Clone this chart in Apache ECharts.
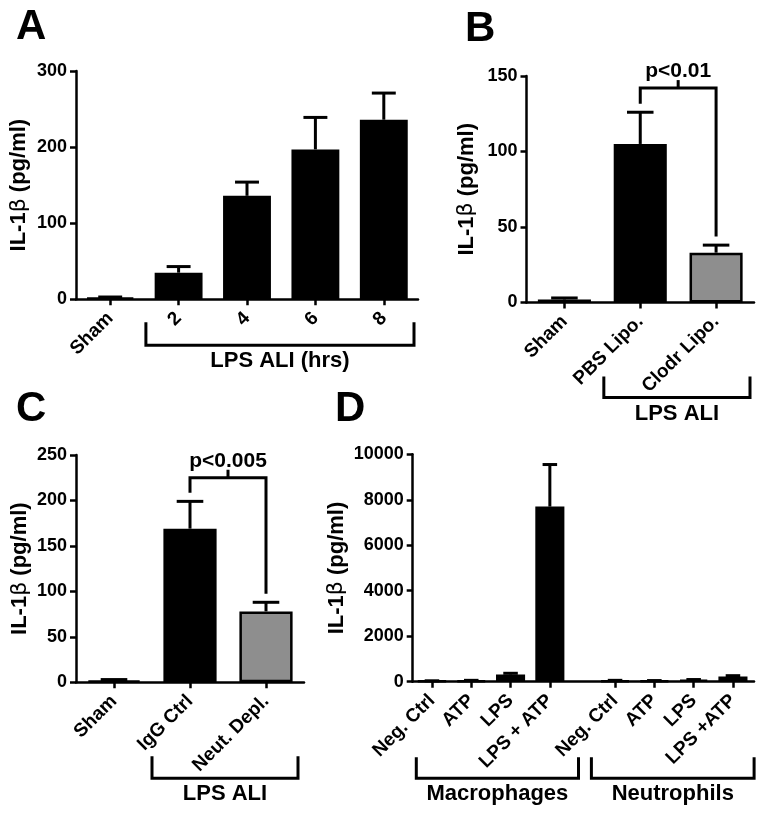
<!DOCTYPE html>
<html><head><meta charset="utf-8">
<script src="https://cdn.jsdelivr.net/npm/echarts@6/dist/echarts.min.js"></script>
<style>html,body{margin:0;padding:0;background:#fff}#c{width:764px;height:815px}</style>
</head><body><div id="c"></div>
<script>
// ---------------- DATA ----------------
const catsA = ['Sham', '2', '4', '6', '8'];
const meanA = [2, 35, 136, 197, 236];
const semA  = [1, 8, 18, 42, 35];

const catsB = ['Sham', 'PBS Lipo.', 'Clodr Lipo.'];
const meanB = [2, 105, 33];
const semB  = [1, 21, 5];

const catsC = ['Sham', 'IgG Ctrl', 'Neut. Depl.'];
const meanC = [2, 169, 78];
const semC  = [1, 30, 10];

const catsDMac = ['Neg. Ctrl', 'ATP', 'LPS', 'LPS + ATP'];
const meanDMac = [30, 50, 320, 7700];
const semDMac  = [10, 10, 50, 1850];

const catsDNeu = ['Neg. Ctrl', 'ATP', 'LPS', 'LPS +ATP'];
const meanDNeu = [50, 40, 80, 230];
const semDNeu  = [10, 10, 15, 35];

const yTicksA = [0, 100, 200, 300];
const yTicksB = [0, 50, 100, 150];
const yTicksC = [0, 50, 100, 150, 200, 250];
const yTicksD = [0, 2000, 4000, 6000, 8000, 10000];

const groupA    = {from: '2', to: '8', label: 'LPS ALI (hrs)'};
const groupB    = {from: 'PBS Lipo.', to: 'Clodr Lipo.', label: 'LPS ALI'};
const groupC    = {from: 'IgG Ctrl', to: 'Neut. Depl.', label: 'LPS ALI'};
const groupDMac = {from: 'Neg. Ctrl', to: 'LPS + ATP', label: 'Macrophages'};
const groupDNeu = {from: 'Neg. Ctrl', to: 'LPS +ATP', label: 'Neutrophils'};

const sigB = {from: 'PBS Lipo.', to: 'Clodr Lipo.', level: 142, label: 'p<0.01'};
const sigC = {from: 'IgG Ctrl', to: 'Neut. Depl.', level: 225, label: 'p<0.005'};

const grayCategories = ['Clodr Lipo.', 'Neut. Depl.'];
const yTitle = 'IL-1{b|β} (pg/ml)';
const panelLetters = ['A', 'B', 'C', 'D'];

// ---------------- STYLE ----------------
const FONT = '"Liberation Sans", Arial, Helvetica, sans-serif';
const BLACK = '#000';
const GRAY = '#8e8e8e';
const LW = 3;
const AXW = 2.5;

function tickInfo(t) { return {min: t[0], max: t[t.length - 1], interval: t[1] - t[0]}; }

function yAxisCfg(gridIndex, ticks, nameGap, show) {
  const ti = tickInfo(ticks);
  return {
    gridIndex, type: 'value', min: ti.min, max: ti.max, interval: ti.interval, show: show,
    name: yTitle, nameLocation: 'middle', nameGap: nameGap,
    nameTextStyle: {fontSize: 22, fontWeight: 'bold', fontFamily: FONT, color: BLACK,
      rich: {b: {fontSize: 22, fontWeight: 'normal', fontFamily: '"DejaVu Sans", sans-serif', color: BLACK}}},
    axisLine: {show: true, lineStyle: {color: BLACK, width: AXW}},
    axisTick: {show: true, length: 6, lineStyle: {color: BLACK, width: AXW}},
    axisLabel: {fontSize: 18, fontWeight: 'bold', fontFamily: FONT, color: BLACK, margin: 9, formatter: v => String(v)},
    splitLine: {show: false}
  };
}
function xAxisCfg(gridIndex, cats, showLine) {
  return {
    gridIndex, type: 'category', data: cats, boundaryGap: true,
    axisLine: {show: showLine, lineStyle: {color: BLACK, width: AXW}},
    axisTick: {show: true, alignWithLabel: true, length: 6, lineStyle: {color: BLACK, width: AXW}},
    axisLabel: {interval: 0, rotate: 45, fontSize: 19, fontWeight: 'bold', fontFamily: FONT, color: BLACK, margin: 16},
    splitLine: {show: false}
  };
}
function barSeries(axisIdx, mean, barW) {
  return {
    type: 'bar', xAxisIndex: axisIdx, yAxisIndex: axisIdx, data: mean, barWidth: barW,
    itemStyle: {color: p => grayCategories.includes(p.name) ? GRAY : BLACK, borderColor: BLACK, borderWidth: 2.5},
    z: 2, silent: true
  };
}
function errSeries(axisIdx, mean, sem, frac) {
  return {
    type: 'custom', xAxisIndex: axisIdx, yAxisIndex: axisIdx, z: 3, silent: true,
    data: mean.map((m, i) => [i, m, m + sem[i]]),
    renderItem: function (params, api) {
      const x = api.value(0), m = api.value(1), u = api.value(2);
      const p0 = api.coord([x, m]), p1 = api.coord([x, u]);
      const half = api.size([1, 0])[0] * frac * 0.25;
      return {type: 'group', children: [
        {type: 'line', shape: {x1: p0[0], y1: p0[1], x2: p1[0], y2: p1[1]}, style: {stroke: BLACK, lineWidth: 3}},
        {type: 'line', shape: {x1: p1[0] - half, y1: p1[1], x2: p1[0] + half, y2: p1[1]}, style: {stroke: BLACK, lineWidth: 3}}
      ]};
    }
  };
}
function groupSeries(axisIdx, cats, g, geo) {
  return {
    type: 'custom', xAxisIndex: axisIdx, yAxisIndex: axisIdx, z: 3, silent: true, clip: false,
    data: [[cats.indexOf(g.from), 0, cats.indexOf(g.to)]],
    renderItem: function (params, api) {
      const f = api.value(0), t = api.value(2);
      const band = api.size([1, 0])[0];
      const pf = api.coord([f, 0]), pt = api.coord([t, 0]);
      const xl = pf[0] - band / 2 + geo.padL, xr = pt[0] + band / 2 - geo.padR;
      const y0 = pf[1] + geo.top, y1 = pf[1] + geo.bottom;
      return {type: 'group', children: [
        {type: 'polyline', shape: {points: [[xl, y0], [xl, y1], [xr, y1], [xr, y0]]}, style: {stroke: BLACK, lineWidth: LW, fill: null}},
        {type: 'text', style: {text: g.label, x: (xl + xr) / 2, y: y1 + 5, align: 'center', verticalAlign: 'top',
          fontSize: 22, fontWeight: 'bold', fontFamily: FONT, fill: BLACK}}
      ]};
    }
  };
}
function sigSeries(axisIdx, cats, mean, sem, s) {
  const fi = cats.indexOf(s.from), ti = cats.indexOf(s.to);
  return {
    type: 'custom', xAxisIndex: axisIdx, yAxisIndex: axisIdx, z: 3, silent: true, clip: false,
    data: [[fi, s.level, ti, mean[fi] + sem[fi], mean[ti] + sem[ti]]],
    renderItem: function (params, api) {
      const f = api.value(0), lvl = api.value(1), t = api.value(2);
      const pl = api.coord([f, lvl]), pr = api.coord([t, lvl]);
      const yl = api.coord([f, api.value(3)])[1] - 8.5;
      const yr = api.coord([t, api.value(4)])[1] - 8.5;
      const xm = (pl[0] + pr[0]) / 2, yt = pl[1] - 8;
      return {type: 'group', children: [
        {type: 'polyline', shape: {points: [[pl[0], yl], [pl[0], pl[1]], [pr[0], pr[1]], [pr[0], yr]]}, style: {stroke: BLACK, lineWidth: LW, fill: null}},
        {type: 'line', shape: {x1: xm, y1: pl[1], x2: xm, y2: yt}, style: {stroke: BLACK, lineWidth: LW}},
        {type: 'text', style: {text: s.label, x: xm, y: yt + 2, align: 'center', verticalAlign: 'bottom',
          fontSize: 21, fontWeight: 'bold', fontFamily: FONT, fill: BLACK}}
      ]};
    }
  };
}

const letterPos = [[16, 6], [465, 8], [16, 388], [335, 388]];
const option = {
  backgroundColor: '#fff',
  animation: false,
  title: panelLetters.map((t, i) => ({text: t, left: letterPos[i][0], top: letterPos[i][1], padding: 0,
    textStyle: {fontSize: 42, fontWeight: 'bold', fontFamily: FONT, color: BLACK}})),
  grid: [
    {left: 76, top: 71, width: 342, height: 228.3, outerBoundsMode: 'none', containLabel: false},
    {left: 526.5, top: 76, width: 227.5, height: 226.5, outerBoundsMode: 'none', containLabel: false},
    {left: 76, top: 455, width: 228, height: 227.3, outerBoundsMode: 'none', containLabel: false},
    {left: 412.7, top: 454.3, width: 341.3, height: 227.4, outerBoundsMode: 'none', containLabel: false},
    {left: 412.3, top: 454.3, width: 157.2, height: 227.4, outerBoundsMode: 'none', containLabel: false},
    {left: 595.4, top: 454.3, width: 157.2, height: 227.4, outerBoundsMode: 'none', containLabel: false}
  ],
  xAxis: [
    xAxisCfg(0, catsA, true),
    xAxisCfg(1, catsB, true),
    xAxisCfg(2, catsC, true),
    {gridIndex: 3, type: 'value', min: 0, max: 1, axisLine: {show: true, onZero: false, lineStyle: {color: BLACK, width: AXW}},
      axisTick: {show: false}, axisLabel: {show: false}, splitLine: {show: false}},
    xAxisCfg(4, catsDMac, false),
    xAxisCfg(5, catsDNeu, false)
  ],
  yAxis: [
    yAxisCfg(0, yTicksA, 46, true),
    yAxisCfg(1, yTicksB, 49, true),
    yAxisCfg(2, yTicksC, 45, true),
    yAxisCfg(3, yTicksD, 65, true),
    yAxisCfg(4, yTicksD, 65, false),
    yAxisCfg(5, yTicksD, 65, false)
  ],
  series: [
    barSeries(0, meanA, '70%'), errSeries(0, meanA, semA, 0.7), groupSeries(0, catsA, groupA, {padL: 1.5, padR: 4, top: 23, bottom: 46}),
    barSeries(1, meanB, '70%'), errSeries(1, meanB, semB, 0.7), groupSeries(1, catsB, groupB, {padL: 1.5, padR: 4, top: 74, bottom: 95}),
    sigSeries(1, catsB, meanB, semB, sigB),
    barSeries(2, meanC, '70%'), errSeries(2, meanC, semC, 0.7), groupSeries(2, catsC, groupC, {padL: 0, padR: 6, top: 74, bottom: 96}),
    sigSeries(2, catsC, meanC, semC, sigC),
    {type: 'bar', xAxisIndex: 3, yAxisIndex: 3, data: []},
    barSeries(4, meanDMac, '74%'), errSeries(4, meanDMac, semDMac, 0.74), groupSeries(4, catsDMac, groupDMac, {padL: 4, padR: -9, top: 75.5, bottom: 96.5}),
    barSeries(5, meanDNeu, '74%'), errSeries(5, meanDNeu, semDNeu, 0.74), groupSeries(5, catsDNeu, groupDNeu, {padL: -4, padR: -1.5, top: 75.5, bottom: 96.5})
  ]
};
const chart = echarts.init(document.getElementById('c'), null, {renderer: 'canvas'});
chart.setOption(option);
</script>
</body></html>
